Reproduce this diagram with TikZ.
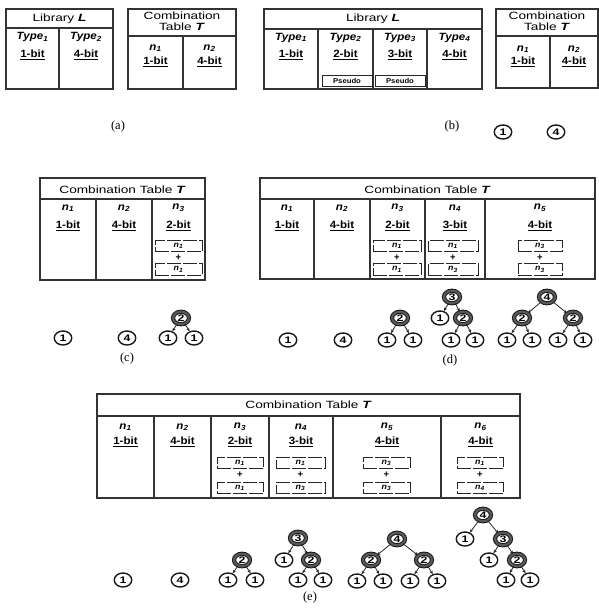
\documentclass[tikz,border=0pt]{standalone}
\usepackage{fontspec}
\setmainfont{Liberation Sans}
\newfontfamily\serf{Liberation Serif}
\newfontfamily\titlef[FakeStretch=1.3]{Liberation Sans}
\newfontfamily\cellf[FakeStretch=1.1]{Liberation Sans}
\usetikzlibrary{arrows.meta,shapes.geometric}
\newcommand\nn[1]{\textbf{\textit{n\textsubscript{#1}}}}
\newcommand\ty[1]{\textbf{\textit{Type\textsubscript{#1}}}}
\newcommand\bt[1]{\textbf{\underline{#1-bit}}}
\tikzset{
  tbl/.style={line width=1.2pt, draw=black!80},
  ttl/.style={font=\titlef\fontsize{10.5}{12}\selectfont, align=center, inner sep=0pt},
  cell/.style={font=\cellf\fontsize{10.5}{12}\selectfont, inner sep=0pt},
  subbox/.style={draw=black!85, line width=0.9pt, dash pattern=on 14pt off 2pt, minimum height=11.5pt, inner sep=0pt, font=\cellf\fontsize{8}{8}\selectfont},
  plus/.style={font=\bfseries\fontsize{9.5}{9}\selectfont, inner sep=0pt},
  pseudo/.style={draw=black!85, line width=1pt, minimum width=50pt, minimum height=11pt, inner sep=0pt, font=\cellf\bfseries\fontsize{7}{7}\selectfont},
  one/.style={ellipse, draw=black!90, line width=1.4pt, minimum width=17.5pt, minimum height=14pt, inner sep=0pt, font=\titlef\bfseries\fontsize{9.5}{9}\selectfont},
  two/.style={one, line width=1pt, double=black!65, double distance=2.2pt, minimum width=16pt, minimum height=12.5pt},
  arr/.style={-{Stealth[length=3.5pt,width=3.2pt]}, line width=0.8pt, draw=black!85},
  lbl/.style={font=\serf\fontsize{12.5}{12}\selectfont, inner sep=0pt}
}
\begin{document}
\begin{tikzpicture}[x=1pt,y=-1pt]
\useasboundingbox (0,0) rectangle (599,608);
% ---------- (a) Library
\draw[tbl] (6,9) rectangle (113,89);
\draw[tbl] (6,28) -- (113,28) (59,28) -- (59,89);
\node[ttl] (aLt) at (59.5,19) {Library \textbf{\textit{L}}};
\node[cell] (aT1) at (32.5,37) {\ty{1}};
\node[cell] (aT2) at (86,37) {\ty{2}};
\node[cell] (aB1) at (32.5,55) {\bt{1}};
\node[cell] (aB2) at (86,55) {\bt{4}};
% ---------- (a) Combination
\draw[tbl] (128,9) rectangle (236,89);
\draw[tbl] (128,36) -- (236,36) (183,36) -- (183,89);
\node[ttl] (aCt) at (182,21.5) {Combination\\[-1pt]Table \textbf{\textit{T}}};
\node[cell] (aN1) at (155.5,48) {\nn{1}};
\node[cell] (aN2) at (209.5,48) {\nn{2}};
\node[cell] (aC1) at (155.5,62) {\bt{1}};
\node[cell] (aC2) at (209.5,62) {\bt{4}};
\node[lbl] (la) at (118,126) {(a)};
% ---------- (b) Library
\draw[tbl] (264,9) rectangle (482,89);
\draw[tbl] (264,29) -- (482,29) (318,29) -- (318,89) (373,29) -- (373,89) (427,29) -- (427,89);
\node[ttl] (bLt) at (373,19) {Library \textbf{\textit{L}}};
\node[cell] (bT1) at (291,37.5) {\ty{1}};
\node[cell] (bT2) at (345.5,37.5) {\ty{2}};
\node[cell] (bT3) at (400,37.5) {\ty{3}};
\node[cell] (bT4) at (454.5,37.5) {\ty{4}};
\node[cell] (bB1) at (291,55) {\bt{1}};
\node[cell] (bB2) at (345.5,55) {\bt{2}};
\node[cell] (bB3) at (400,55) {\bt{3}};
\node[cell] (bB4) at (454.5,55) {\bt{4}};
\node[pseudo] (bP2) at (347,80.5) {Pseudo};
\node[pseudo] (bP3) at (400,80.5) {Pseudo};
% ---------- (b) Combination
\draw[tbl] (496,9) rectangle (598,88);
\draw[tbl] (496,36) -- (598,36) (550,36) -- (550,88);
\node[ttl] (bCt) at (547,21.5) {Combination\\[-1pt]Table \textbf{\textit{T}}};
\node[cell] (bN1) at (523,49) {\nn{1}};
\node[cell] (bN2) at (574,49) {\nn{2}};
\node[cell] (bC1) at (523,62) {\bt{1}};
\node[cell] (bC2) at (574,62) {\bt{4}};
\node[one] (bo1) at (503,132) {1};
\node[one] (bo4) at (556,132) {4};
\node[lbl] (lb) at (452,126) {(b)};
% ---------- (c)
\draw[tbl] (40,178) rectangle (205,280);
\draw[tbl] (40,199) -- (205,199) (96,199) -- (96,280) (152,199) -- (152,280);
\node[ttl] (cCt) at (122.5,190) {Combination Table \textbf{\textit{T}}};
\node[cell] (cN1) at (68,208) {\nn{1}};
\node[cell] (cN2) at (124,208) {\nn{2}};
\node[cell] (cN3) at (178.5,208) {\nn{3}};
\node[cell] (cB1) at (68,226) {\bt{1}};
\node[cell] (cB2) at (124,226) {\bt{4}};
\node[cell] (cB3) at (178.5,226) {\bt{2}};
\node[subbox, minimum width=47pt] (cS3a) at (178.5,246) {\nn{1}};
\node[plus] (cP3) at (178.5,258) {+};
\node[subbox, minimum width=47pt] (cS3b) at (178.5,269.5) {\nn{1}};
\node[one] (c1) at (63,338) {1};
\node[one] (c4) at (127,338) {4};
\node[two] (c3r) at (181,318) {2};
\node[one] (c3a) at (168,338) {1};
\node[one] (c3b) at (194,338) {1};
\draw[arr] (c3r) -- (c3a);
\draw[arr] (c3r) -- (c3b);
\node[lbl] (lc) at (127,358) {(c)};
% ---------- (d)
\draw[tbl] (260,178) rectangle (595,279);
\draw[tbl] (260,199) -- (595,199) (314,199) -- (314,279) (370,199) -- (370,279) (425,199) -- (425,279) (485,199) -- (485,279);
\node[ttl] (dCt) at (427.5,190) {Combination Table \textbf{\textit{T}}};
\node[cell] (dN1) at (287,208) {\nn{1}};
\node[cell] (dN2) at (342,208) {\nn{2}};
\node[cell] (dN3) at (397.5,208) {\nn{3}};
\node[cell] (dN4) at (455,208) {\nn{4}};
\node[cell] (dN5) at (540,208) {\nn{5}};
\node[cell] (dB1) at (287,226) {\bt{1}};
\node[cell] (dB2) at (342,226) {\bt{4}};
\node[cell] (dB3) at (397.5,226) {\bt{2}};
\node[cell] (dB4) at (455,226) {\bt{3}};
\node[cell] (dB5) at (540,226) {\bt{4}};
\node[subbox, minimum width=48pt] (dS3a) at (397,246) {\nn{1}};
\node[plus] (dP3) at (397,258) {+};
\node[subbox, minimum width=48pt] (dS3b) at (397,269.5) {\nn{1}};
\node[subbox, minimum width=50pt] (dS4a) at (453,246) {\nn{1}};
\node[plus] (dP4) at (453,258) {+};
\node[subbox, minimum width=50pt] (dS4b) at (453,269.5) {\nn{3}};
\node[subbox, minimum width=44pt] (dS5a) at (540,246) {\nn{3}};
\node[plus] (dP5) at (540,258) {+};
\node[subbox, minimum width=44pt] (dS5b) at (540,269.5) {\nn{3}};
\node[one] (d1) at (288,340) {1};
\node[one] (d4) at (343,340) {4};
\node[two] (d3r) at (400,318) {2};
\node[one] (d3a) at (387,340) {1};
\node[one] (d3b) at (413,340) {1};
\draw[arr] (d3r) -- (d3a);
\draw[arr] (d3r) -- (d3b);
\node[two] (d4r) at (452,297) {3};
\node[one] (d4a) at (440,318) {1};
\node[two] (d4b) at (463,318) {2};
\node[one] (d4c) at (451,340) {1};
\node[one] (d4d) at (475,340) {1};
\draw[arr] (d4r) -- (d4a);
\draw[arr] (d4r) -- (d4b);
\draw[arr] (d4b) -- (d4c);
\draw[arr] (d4b) -- (d4d);
\node[two] (d5r) at (547,297) {4};
\node[two] (d5a) at (522,318) {2};
\node[two] (d5b) at (573,318) {2};
\node[one] (d5c) at (507,340) {1};
\node[one] (d5d) at (532,340) {1};
\node[one] (d5e) at (558,340) {1};
\node[one] (d5f) at (583,340) {1};
\draw[arr] (d5r) -- (d5a);
\draw[arr] (d5r) -- (d5b);
\draw[arr] (d5a) -- (d5c);
\draw[arr] (d5a) -- (d5d);
\draw[arr] (d5b) -- (d5e);
\draw[arr] (d5b) -- (d5f);
\node[lbl] (ld) at (450,360) {(d)};
% ---------- (e)
\draw[tbl] (97,394) rectangle (520,498);
\draw[tbl] (97,416) -- (520,416) (154,416) -- (154,498) (211,416) -- (211,498) (269,416) -- (269,498) (333,416) -- (333,498) (441,416) -- (441,498);
\node[ttl] (eCt) at (308.5,405) {Combination Table \textbf{\textit{T}}};
\node[cell] (eN1) at (125.5,427) {\nn{1}};
\node[cell] (eN2) at (182.5,427) {\nn{2}};
\node[cell] (eN3) at (240,427) {\nn{3}};
\node[cell] (eN4) at (301,427) {\nn{4}};
\node[cell] (eN5) at (387,427) {\nn{5}};
\node[cell] (eN6) at (480.5,427) {\nn{6}};
\node[cell] (eB1) at (125.5,442) {\bt{1}};
\node[cell] (eB2) at (182.5,442) {\bt{4}};
\node[cell] (eB3) at (240,442) {\bt{2}};
\node[cell] (eB4) at (301,442) {\bt{3}};
\node[cell] (eB5) at (387,442) {\bt{4}};
\node[cell] (eB6) at (480.5,442) {\bt{4}};
\node[subbox, minimum width=46pt] (eS3a) at (240,463) {\nn{1}};
\node[plus] (eP3) at (240,474.5) {+};
\node[subbox, minimum width=46pt] (eS3b) at (240,488) {\nn{1}};
\node[subbox, minimum width=49pt] (eS4a) at (300.5,463) {\nn{1}};
\node[plus] (eP4) at (300.5,474.5) {+};
\node[subbox, minimum width=49pt] (eS4b) at (300.5,488) {\nn{3}};
\node[subbox, minimum width=47pt] (eS5a) at (386.5,463) {\nn{3}};
\node[plus] (eP5) at (386.5,474.5) {+};
\node[subbox, minimum width=47pt] (eS5b) at (386.5,488) {\nn{3}};
\node[subbox, minimum width=46pt] (eS6a) at (480,463) {\nn{1}};
\node[plus] (eP6) at (480,474.5) {+};
\node[subbox, minimum width=46pt] (eS6b) at (480,488) {\nn{4}};
\node[one] (e1) at (123,580) {1};
\node[one] (e4) at (180,580) {4};
\node[two] (e3r) at (242,560) {2};
\node[one] (e3a) at (228,580) {1};
\node[one] (e3b) at (255,580) {1};
\draw[arr] (e3r) -- (e3a);
\draw[arr] (e3r) -- (e3b);
\node[two] (e4r) at (298,538) {3};
\node[one] (e4a) at (284,560) {1};
\node[two] (e4b) at (311,560) {2};
\node[one] (e4c) at (298,580) {1};
\node[one] (e4d) at (323,580) {1};
\draw[arr] (e4r) -- (e4a);
\draw[arr] (e4r) -- (e4b);
\draw[arr] (e4b) -- (e4c);
\draw[arr] (e4b) -- (e4d);
\node[two] (e5r) at (397,539) {4};
\node[two] (e5a) at (371,560) {2};
\node[two] (e5b) at (424,560) {2};
\node[one] (e5c) at (357,581) {1};
\node[one] (e5d) at (383,581) {1};
\node[one] (e5e) at (410,581) {1};
\node[one] (e5f) at (437,581) {1};
\draw[arr] (e5r) -- (e5a);
\draw[arr] (e5r) -- (e5b);
\draw[arr] (e5a) -- (e5c);
\draw[arr] (e5a) -- (e5d);
\draw[arr] (e5b) -- (e5e);
\draw[arr] (e5b) -- (e5f);
\node[two] (e6r) at (483,515) {4};
\node[one] (e6a) at (465,539) {1};
\node[two] (e6b) at (503,539) {3};
\node[one] (e6c) at (489,560) {1};
\node[two] (e6d) at (517,560) {2};
\node[one] (e6e) at (506,580) {1};
\node[one] (e6f) at (530,580) {1};
\draw[arr] (e6r) -- (e6a);
\draw[arr] (e6r) -- (e6b);
\draw[arr] (e6b) -- (e6c);
\draw[arr] (e6b) -- (e6d);
\draw[arr] (e6d) -- (e6e);
\draw[arr] (e6d) -- (e6f);
\node[lbl] (le) at (310,597) {(e)};
\end{tikzpicture}
\end{document}
